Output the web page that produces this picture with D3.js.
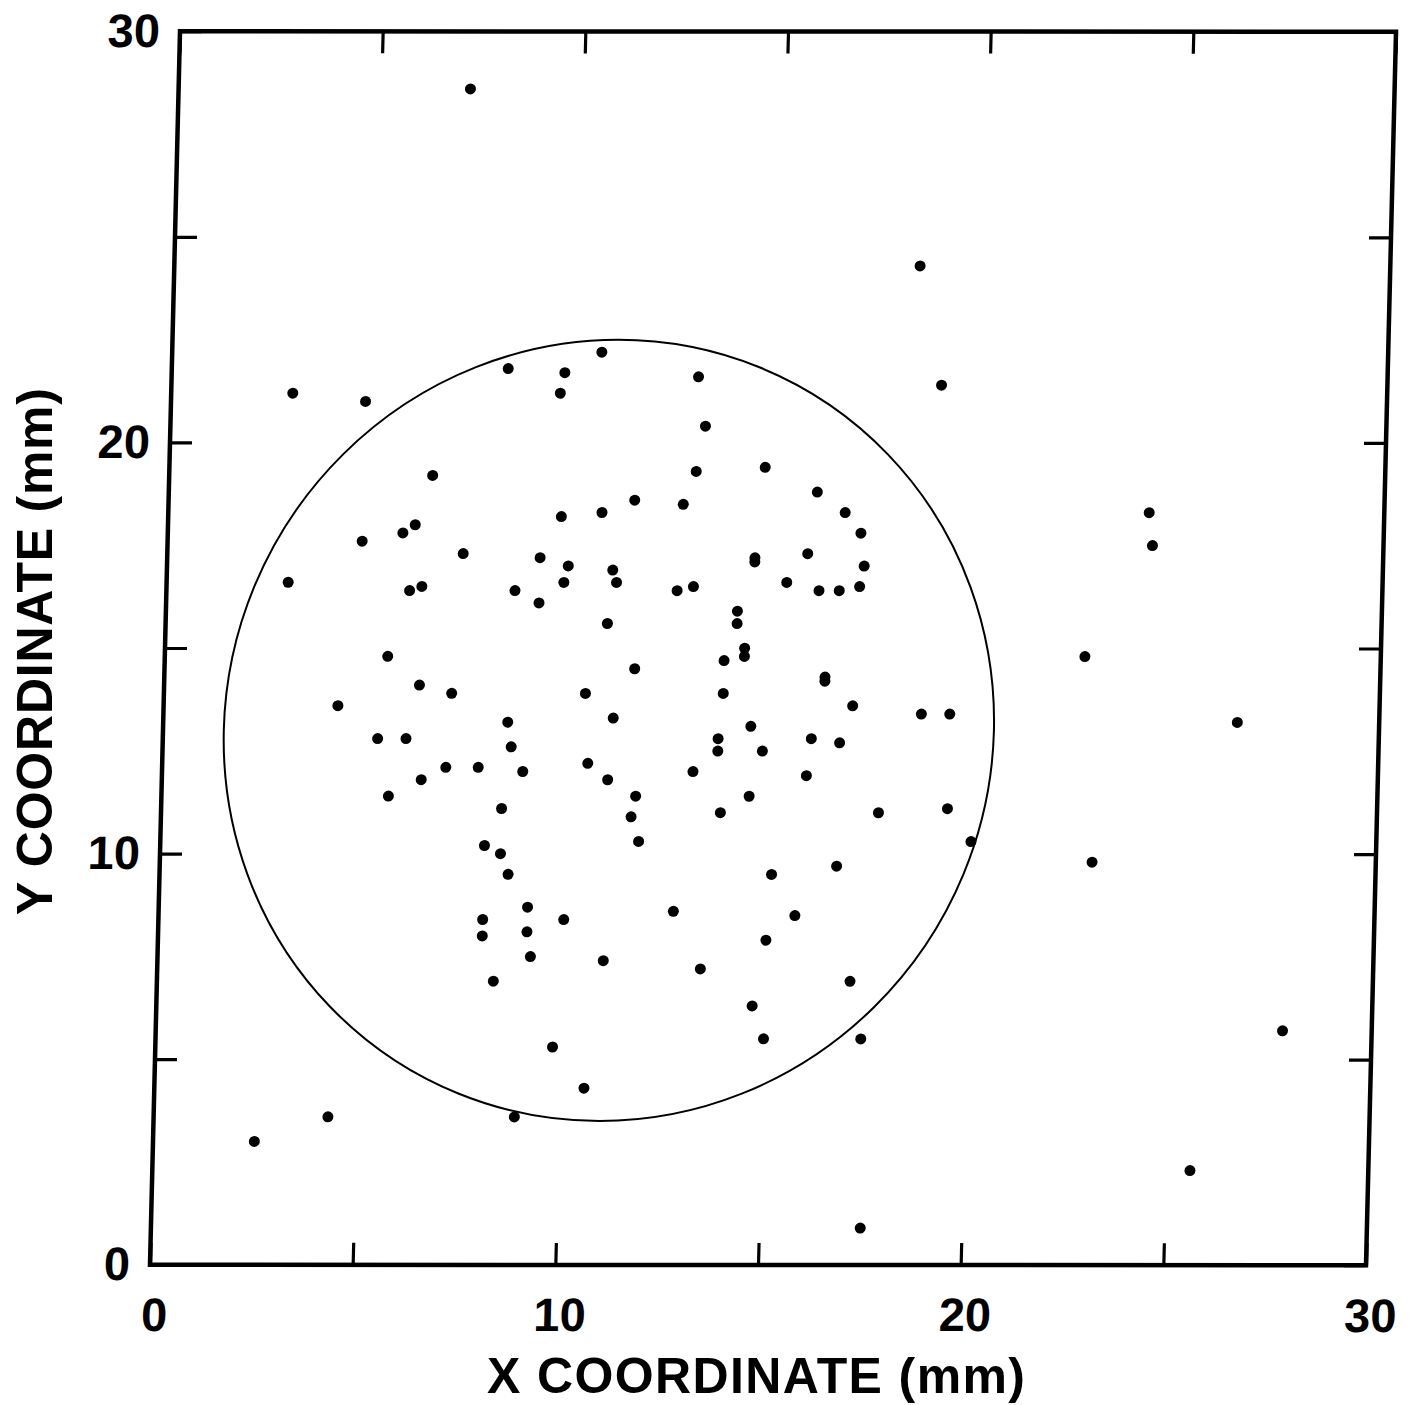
<!DOCTYPE html>
<html>
<head>
<meta charset="utf-8">
<script src="https://cdn.jsdelivr.net/npm/d3@7"></script>
<style>
  html, body { margin: 0; padding: 0; background: #fff; }
  svg text { font-family: "Liberation Sans", Arial, sans-serif; font-weight: bold; fill: #000; }
</style>
</head>
<body>
<script>
// ---------- data ----------
const xDomain = [0, 30];
const yDomain = [0, 30];
const tickValues = [0, 5, 10, 15, 20, 25, 30];
const labelValues = [0, 10, 20, 30];
const xTitle = "X COORDINATE (mm)";
const yTitle = "Y COORDINATE (mm)";

// circle (mm)
const circleCenterX = 11;
const circleCenterY = 13;
const circleRadius = 9.5;

// scattered points (mm)
const pointX = [
  7.2, 18.4, 3.0, 4.8, 19.0, 24.2, 24.3, 3.0, 22.7, 4.3,
  26.5, 23.0, 27.8, 2.5, 4.3, 8.9, 25.6, 17.5, 17.4, 20.0,
  6.5, 6.1, 5.8, 4.8, 7.3, 6.0, 6.3, 5.5, 6.3, 7.1,
  8.3, 9.7, 10.6, 9.6, 13.0, 13.2, 14.7, 13.0, 11.5, 12.7,
  10.7, 9.7, 9.2, 9.9, 11.0, 11.1, 9.8, 8.6, 9.2, 12.6,
  13.0, 14.5, 14.5, 10.9, 14.1, 14.1, 14.3, 14.3, 13.8, 11.6,
  10.4, 13.8, 8.5, 11.1, 14.5, 16.0, 16.7, 17.1, 15.8, 17.2,
  15.3, 16.1, 16.6, 17.1, 16.3, 16.3, 17.0, 18.7, 19.4, 5.3,
  6.0, 7.0, 7.8, 6.4, 5.6, 8.4, 8.0, 8.4, 8.6, 8.0,
  8.0, 8.3, 8.6, 8.9, 10.5, 11.0, 11.7, 11.6, 11.8, 13.7,
  13.7, 13.1, 14.8, 14.5, 13.8, 15.1, 9.1, 9.1, 10.0, 12.7,
  15.0, 9.2, 11.0, 13.4, 14.7, 15.0, 9.8, 10.6, 16.0, 16.7,
  15.9, 17.7, 19.4, 16.7, 15.7, 17.1
];
const pointY = [
  28.6, 24.3, 21.2, 21.0, 21.4, 18.3, 17.5, 16.6, 14.8, 13.6,
  13.2, 9.8, 5.7, 3.0, 3.6, 3.6, 2.3, 0.9, 5.5, 10.3,
  19.2, 18.0, 17.8, 17.6, 17.3, 16.4, 16.5, 14.8, 14.1, 13.9,
  21.8, 21.7, 22.2, 21.2, 21.6, 20.4, 19.4, 19.3, 18.6, 18.5,
  18.3, 18.2, 17.2, 17.0, 16.9, 16.6, 16.6, 16.4, 16.1, 16.4,
  16.5, 17.2, 17.1, 15.6, 15.9, 15.6, 15.0, 14.8, 14.7, 14.5,
  13.9, 13.9, 13.2, 13.3, 13.1, 18.8, 18.3, 17.8, 17.3, 17.0,
  16.6, 16.4, 16.4, 16.5, 14.3, 14.2, 13.6, 13.4, 13.4, 12.8,
  12.8, 12.1, 12.1, 11.8, 11.4, 11.1, 10.2, 10.0, 9.5, 8.4,
  8.0, 6.9, 12.6, 12.0, 12.2, 11.8, 11.4, 10.9, 10.3, 12.8,
  12.5, 12.0, 12.5, 11.4, 11.0, 9.5, 8.7, 8.1, 8.4, 8.6,
  7.9, 7.5, 7.4, 7.2, 6.3, 5.5, 5.3, 4.3, 12.8, 12.7,
  11.9, 11.0, 11.1, 9.7, 8.5, 6.9
];

// ---------- layout ----------
const W = 1216, H = 1233.5;
const svg = d3.select("body").append("svg")
  .attr("width", 1418).attr("height", 1405);

// the scanned original frame is slightly sheared; reproduce with an affine transform
const plot = svg.append("g")
  .attr("transform", `matrix(1, ${0.5 / W}, ${-30 / H}, 1, 180, 31.25)`);

const x = d3.scaleLinear().domain(xDomain).range([0, W]);
const y = d3.scaleLinear().domain(yDomain).range([H, 0]);

const fmt = d => labelValues.includes(d) ? String(d) : "";

function styleAxis(g) {
  g.select(".domain").remove();
  g.selectAll(".tick line").attr("stroke", "#000").attr("stroke-width", 3.2);
  g.selectAll(".tick text").style("font-size", "47px").attr("font-family", null);
}

plot.append("g").attr("transform", `translate(0,${H})`)
  .call(d3.axisBottom(x).tickValues(tickValues).tickSizeInner(-22).tickSizeOuter(0).tickPadding(33).tickFormat(fmt))
  .call(styleAxis)
  .call(g => g.selectAll(".tick text").attr("dx", 5));
plot.append("g")
  .call(d3.axisLeft(y).tickValues(tickValues).tickSizeInner(-22).tickSizeOuter(0).tickPadding(20).tickFormat(fmt))
  .call(styleAxis);
plot.append("g")
  .call(d3.axisTop(x).tickValues(tickValues).tickSizeInner(-22).tickSizeOuter(0).tickFormat(""))
  .call(styleAxis);
plot.append("g").attr("transform", `translate(${W},0)`)
  .call(d3.axisRight(y).tickValues(tickValues).tickSizeInner(-22).tickSizeOuter(0).tickFormat(""))
  .call(styleAxis);

// frame
plot.append("rect")
  .attr("x", x(xDomain[0])).attr("y", y(yDomain[1]))
  .attr("width", x(xDomain[1]) - x(xDomain[0]))
  .attr("height", y(yDomain[0]) - y(yDomain[1]))
  .attr("fill", "none").attr("stroke", "#000").attr("stroke-width", 4.5);

// circle
plot.append("ellipse")
  .attr("cx", x(circleCenterX)).attr("cy", y(circleCenterY))
  .attr("rx", x(circleRadius) - x(0)).attr("ry", y(0) - y(circleRadius))
  .attr("fill", "none").attr("stroke", "#000").attr("stroke-width", 2);

// points
const pts = pointX.map((v, i) => ({ x: v, y: pointY[i] }));
plot.append("g").selectAll("circle").data(pts).join("circle")
  .attr("cx", d => x(d.x)).attr("cy", d => y(d.y))
  .attr("r", 5.5).attr("fill", "#000");

// axis titles
svg.append("text")
  .attr("x", 487).attr("y", 1393)
  .attr("textLength", 538).attr("lengthAdjust", "spacing")
  .style("font-size", "50px")
  .text(xTitle);

svg.append("text")
  .attr("transform", "translate(52,915) rotate(-90)")
  .attr("textLength", 527).attr("lengthAdjust", "spacing")
  .style("font-size", "50px")
  .text(yTitle);
</script>
</body>
</html>
